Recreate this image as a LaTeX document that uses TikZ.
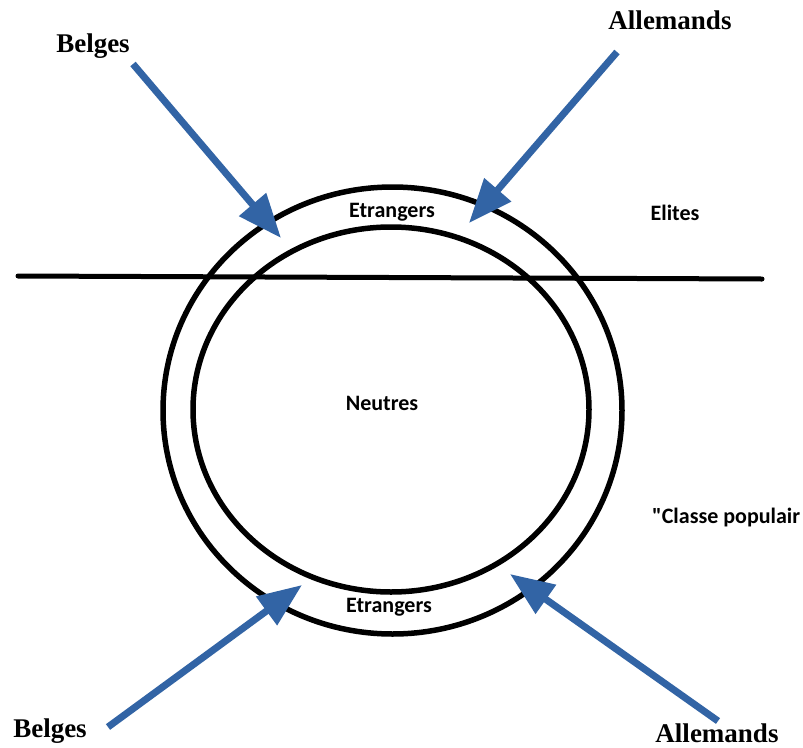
\documentclass[tikz,border=0pt]{standalone}
\usepackage{fontspec}
\setmainfont{Liberation Serif}
\newfontfamily\calib{Carlito}
\usetikzlibrary{arrows.meta}
\definecolor{fleche}{RGB}{50,100,165}

\begin{document}
\begin{tikzpicture}[x=1pt,y=-1pt,
    peuple/.style={font=\bfseries\fontsize{27}{30}\selectfont,inner sep=0pt},
    groupe/.style={font=\calib\bfseries\fontsize{22}{24}\selectfont,inner sep=0pt},
    poussee/.style={line width=7pt,fleche,-{Triangle[length=44pt,width=34pt]}}]
  \useasboundingbox[fill=white] (0,0) rectangle (803,747);

  % anneaux
  \draw[line width=5.5pt] (392.5,410.5) ellipse [x radius=229.5, y radius=223.5];
  \draw[line width=5.5pt] (391,409.5) ellipse [x radius=198, y radius=182.5];

  % separation elites / classe populaire
  \coordinate (sepG) at (18,276);
  \coordinate (sepD) at (762,279);
  \draw[line width=5pt,line cap=round] (sepG) -- (sepD);

  % textes des anneaux
  \node[groupe] (etrH) at (392,212){Etrangers};
  \node[groupe] (etrB) at (389,607){Etrangers};
  \node[groupe] (neutres) at (382,403){Neutres};
  \node[groupe] (elites) at (675,213){Elites};
  \node[groupe,anchor=west] (classe) at (652,518){"Classe populair};

  % peuples
  \node[peuple] (belgesH) at (93,46){Belges};
  \node[peuple] (allemH) at (670,20){Allemands};
  \node[peuple] (belgesB) at (50,731){Belges};
  \node[peuple] (allemB) at (717,733){Allemands};

  % depart et pointe des fleches
  \coordinate (bHs) at (133,64);
  \coordinate (bHp) at (281,238);
  \coordinate (aHs) at (617,52);
  \coordinate (aHp) at (469,223);
  \coordinate (bBs) at (108,727);
  \coordinate (bBp) at (302,585);
  \coordinate (aBs) at (718,721);
  \coordinate (aBp) at (510,574);

  \draw[poussee] (bHs) -- (bHp);
  \draw[poussee] (aHs) -- (aHp);
  \draw[poussee] (bBs) -- (bBp);
  \draw[poussee] (aBs) -- (aBp);
\end{tikzpicture}
\end{document}
